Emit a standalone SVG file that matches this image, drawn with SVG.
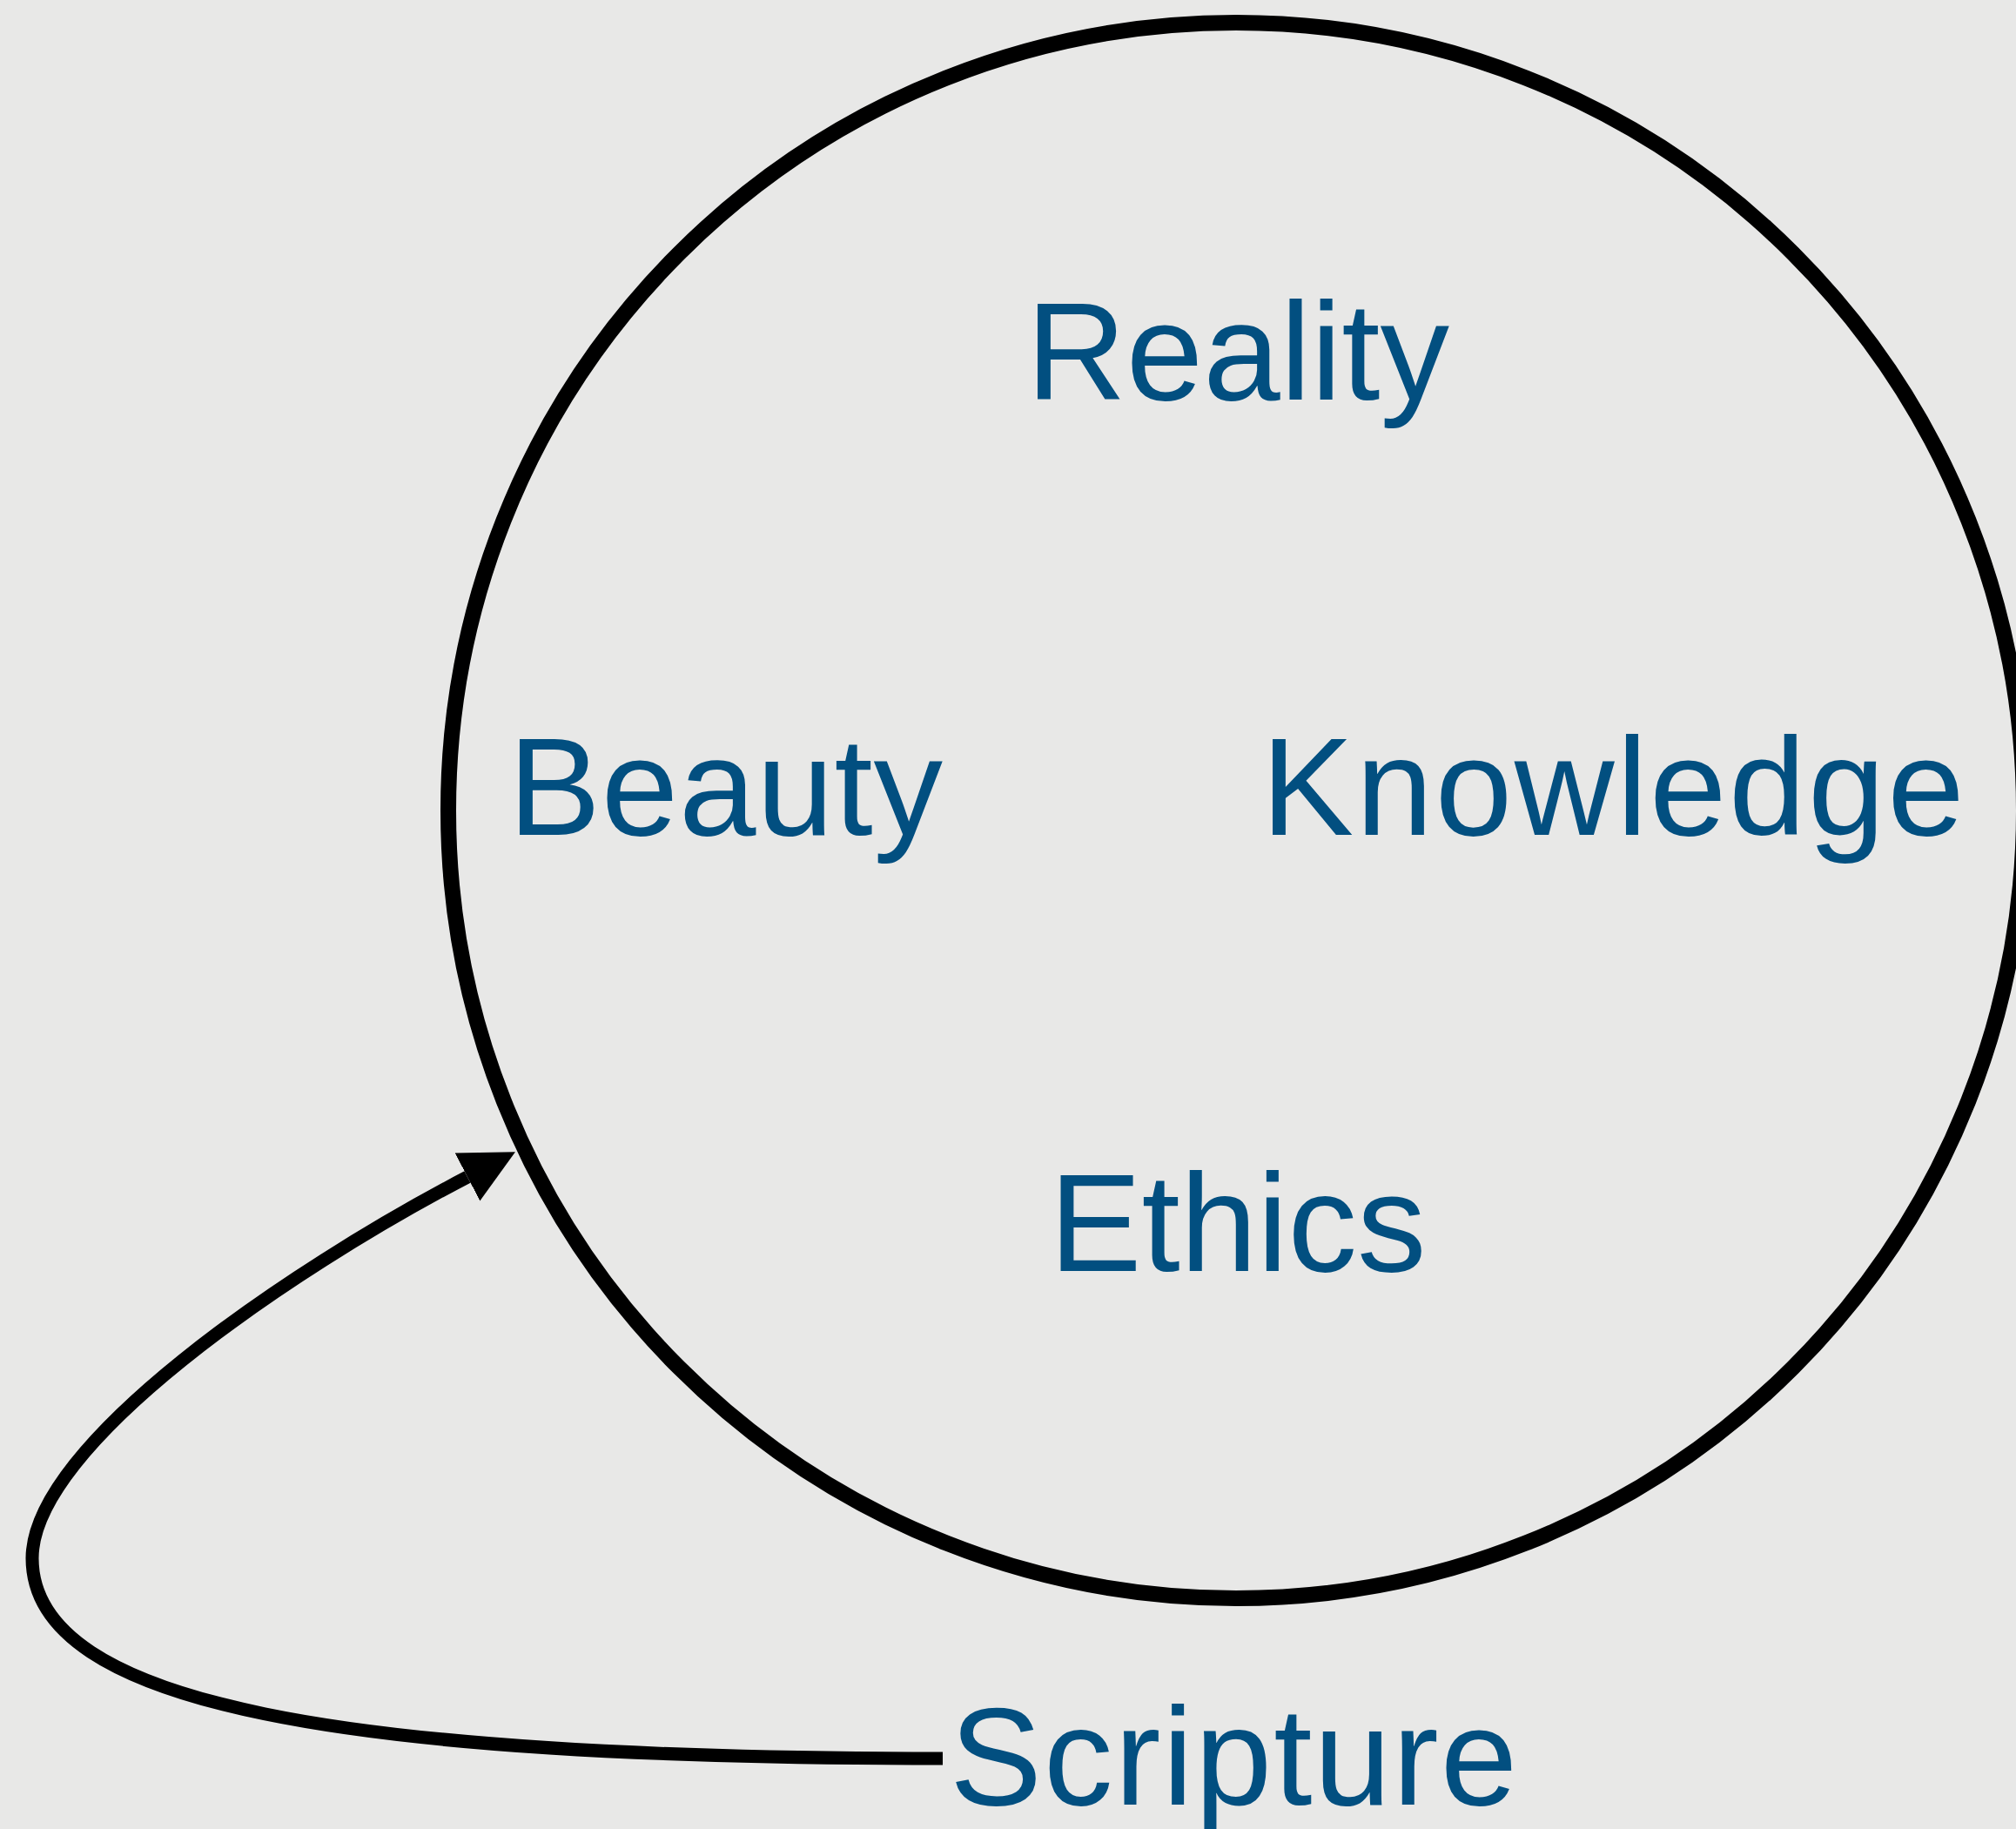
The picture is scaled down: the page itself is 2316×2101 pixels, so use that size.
<svg xmlns="http://www.w3.org/2000/svg" width="2316" height="2101" viewBox="0 0 2316 2101">
<style>
.lbl{font-family:"Liberation Sans",Arial,Helvetica,sans-serif;font-size:159px;fill:#024f80}
.ring{fill:none;stroke:#000;stroke-width:18}
.conn{fill:none;stroke:#000;stroke-width:15}
</style>
<defs>
<marker id="ah" markerUnits="userSpaceOnUse" markerWidth="70" markerHeight="70" viewBox="0 -35 70 70" refX="0" refY="0" orient="auto">
<path d="M0,-31 L62,0 L0,31 Z" fill="#000"/>
</marker>
</defs>
<rect width="2316" height="2101" fill="#e8e8e7"/>
<g id="worldview">
<circle class="ring" cx="1420" cy="931" r="905"/>
</g>
<g id="reality"><text class="lbl" x="1422" y="459" text-anchor="middle">Reality</text></g>
<g id="beauty"><text class="lbl" x="584" y="959" letter-spacing="0.8">Beauty</text></g>
<g id="knowledge"><text class="lbl" x="1449" y="959" letter-spacing="2.6">Knowledge</text></g>
<g id="ethics"><text class="lbl" x="1422" y="1460" text-anchor="middle">Ethics</text></g>
<g id="scripture"><text class="lbl" x="1091" y="2073" letter-spacing="2">Scripture</text></g>
<g id="connectors">
<path class="conn" d="M1083,2020 C400,2020 37,1960 37,1790 C37,1660 330,1460 537,1352" marker-end="url(#ah)"/>
</g>
</svg>
